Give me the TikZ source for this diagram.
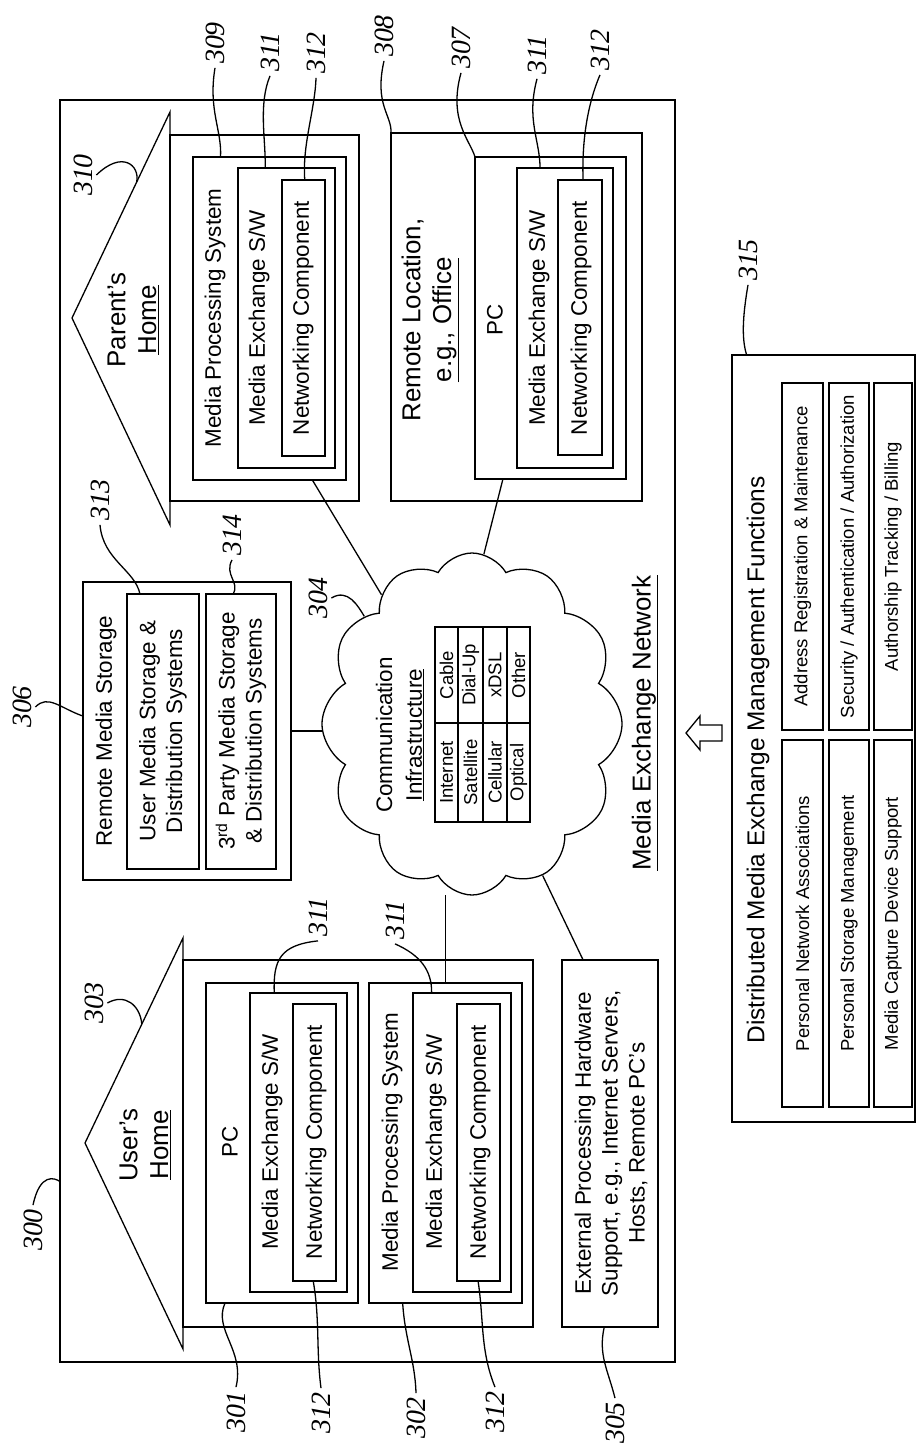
\documentclass[tikz,border=0pt]{standalone}
\usepackage{fontspec}
\setmainfont{Liberation Sans}
\newfontfamily\handfont{Liberation Serif}
\usetikzlibrary{shapes.symbols,fit,calc}
\tikzset{
  box/.style={draw, line width=1.3bp, inner sep=0pt, outer sep=0pt},
  conn/.style={line width=1.3bp},
  lead/.style={line width=1.3bp},
  txt/.style={rotate=90, inner sep=0pt, align=center, font=\fontsize{22.5}{27}\selectfont},
  bigtxt/.style={rotate=90, inner sep=0pt, align=center, font=\fontsize{26}{31}\selectfont},
  smalltxt/.style={rotate=90, inner sep=0pt, align=center, font=\fontsize{18.6}{22}\selectfont},
  titletxt/.style={rotate=90, inner sep=0pt, align=center, font=\fontsize{24.5}{29}\selectfont},
  lbl/.style={rotate=90, inner sep=1pt, outer sep=3pt, font=\handfont\itshape\fontsize{28}{30}\selectfont},
}
\begin{document}
\begin{tikzpicture}[x=1bp, y=-1bp]
\useasboundingbox (0,0) rectangle (916,1452);

% outer network box
\node[box, fit={(60,100)(675,1362)}] (outer) {};

% Parent's home
\coordinate (ptop) at (170,112);
\coordinate (papex) at (72,318);
\coordinate (pbot) at (170,525);
\draw[conn] (ptop) -- (papex) -- (pbot) -- cycle;
\node[box, fit={(170,135)(359,501)}] (prect) {};
\node[bigtxt] (ptxt) at (133,320) {Parent's\\\underline{Home}};
\node[box, fit={(193,157)(346,480)}] (pmps) {};
\node[box, fit={(238,168)(335,468)}] (pmes) {};
\node[box, fit={(282,180)(325,456)}] (pnc) {};
\node[txt] (pmpst) at (215,318) {Media Processing System};
\node[txt] (pmest) at (259,318) {Media Exchange S/W};
\node[txt] (pnct) at (303,318) {Networking Component};

% Remote location
\node[box, fit={(391,133)(642,501)}] (rloc) {};
\node[bigtxt] (rloct) at (430,320) {Remote Location,\\\underline{e.g., Office}};
\node[box, fit={(475,157)(626,479)}] (rpc) {};
\node[box, fit={(517,168)(613,468)}] (rmes) {};
\node[box, fit={(558,180)(602,455)}] (rnc) {};
\node[txt] (rpct) at (495,320) {PC};
\node[txt] (rmest) at (539,318) {Media Exchange S/W};
\node[txt] (rnct) at (581,318) {Networking Component};

% Remote media storage
\node[box, fit={(83,582)(291,880)}] (rms) {};
\node[box, fit={(127,594)(199,869)}] (umsd) {};
\node[box, fit={(206,594)(276,869)}] (tpms) {};
\node[txt] (rmst) at (106,731) {Remote Media Storage};
\node[txt] (umsdt) at (163,731) {User Media Storage \&\\Distribution Systems};
\node[txt] (tpmst) at (241,731) {3\textsuperscript{rd} Party Media Storage\\\& Distribution Systems};

% Cloud
\node[cloud, draw, line width=1.3bp, cloud puffs=12, cloud puff arc=120, aspect=0.86,
      minimum width=300bp, minimum height=342bp, inner sep=0pt] (cloud) at (472,724) {};
\node[txt, font=\fontsize{22.5}{30}\selectfont] (cloudt) at (400,735) {Communication\\\underline{Infrastructure}};
\node[box, fit={(435,723)(458,822)}] (c11) {};
\node[box, fit={(435,627)(458,723)}] (c12) {};
\node[box, fit={(458,723)(483,822)}] (c21) {};
\node[box, fit={(458,627)(483,723)}] (c22) {};
\node[box, fit={(483,723)(507,822)}] (c31) {};
\node[box, fit={(483,627)(507,723)}] (c32) {};
\node[box, fit={(507,723)(530,822)}] (c41) {};
\node[box, fit={(507,627)(530,723)}] (c42) {};
\node[smalltxt] at (c11) {Internet};
\node[smalltxt] at (c12) {Cable};
\node[smalltxt] at (c21) {Satellite};
\node[smalltxt] at (c22) {Dial-Up};
\node[smalltxt] at (c31) {Cellular};
\node[smalltxt] at (c32) {xDSL};
\node[smalltxt] at (c41) {Optical};
\node[smalltxt] at (c42) {Other};

\node[bigtxt] (mxn) at (645,723) {\underline{Media Exchange Network}};

% External processing
\node[box, fit={(562,960)(658,1327)}] (ext) {};
\node[txt] (extt) at (611,1143) {External Processing Hardware\\Support, e.g., Internet Servers,\\Hosts, Remote PC's};

% User's home
\coordinate (utop) at (183,938);
\coordinate (uapex) at (85,1143);
\coordinate (ubot) at (183,1349);
\draw[conn] (utop) -- (uapex) -- (ubot) -- cycle;
\node[box, fit={(183,960)(533,1327)}] (urect) {};
\node[bigtxt] (utxt) at (145,1145) {User's\\\underline{Home}};
\node[box, fit={(206,983)(358,1303)}] (upc) {};
\node[box, fit={(250,993)(347,1292)}] (umes1) {};
\node[box, fit={(293,1004)(336,1281)}] (unc1) {};
\node[box, fit={(369,983)(522,1303)}] (umps) {};
\node[box, fit={(413,993)(511,1292)}] (umes2) {};
\node[box, fit={(457,1004)(500,1281)}] (unc2) {};
\node[txt] (upct) at (230,1142) {PC};
\node[txt] (umes1t) at (272,1142) {Media Exchange S/W};
\node[txt] (unc1t) at (316,1142) {Networking Component};
\node[txt] (umpst) at (392,1142) {Media Processing System};
\node[txt] (umes2t) at (436,1142) {Media Exchange S/W};
\node[txt] (unc2t) at (480,1142) {Networking Component};

% Connectors to the cloud
\draw[conn] ($(pmps.south west)!0.78!(pmps.south east)$) -- (cloud.125);
\draw[conn] ($(rpc.south west)!0.185!(rpc.south east)$) -- (cloud.86);
\draw[conn] (rms.east) -- (rms.east -| cloud.182);
\draw[conn] (umps.north) -- (umps.north |- cloud.268);
\draw[conn] ($(ext.north west)!0.22!(ext.north east)$) -- (cloud.295);

% Arrow
\draw[conn] (686,733) -- (700,716) -- (700,725) -- (722,725) -- (722,741) -- (700,741) -- (700,750) -- cycle;

% Management functions
\node[box, fit={(732,355)(915,1122)}] (func) {};
\node[titletxt] (funct) at (758,760) {Distributed Media Exchange Management Functions};
\node[box, fit={(782,740)(823,1107)}] (f11) {};
\node[box, fit={(782,383)(823,730)}] (f12) {};
\node[box, fit={(829,740)(869,1107)}] (f21) {};
\node[box, fit={(829,383)(869,730)}] (f22) {};
\node[box, fit={(874,740)(912,1107)}] (f31) {};
\node[box, fit={(874,383)(912,730)}] (f32) {};
\node[smalltxt] at (f11) {Personal Network Associations};
\node[smalltxt] at (f12) {Address Registration \& Maintenance};
\node[smalltxt] at (f21) {Personal Storage Management};
\node[smalltxt] at (f22) {Security / Authentication / Authorization};
\node[smalltxt] at (f31) {Media Capture Device Support};
\node[smalltxt] at (f32) {Authorship Tracking / Billing};

% Reference labels
\node[lbl] (l309) at (215,43) {309};
\node[lbl] (l311a) at (270,52) {311};
\node[lbl] (l312a) at (316,53) {312};
\node[lbl] (l308) at (384,36) {308};
\node[lbl] (l307) at (461,48) {307};
\node[lbl] (l311b) at (537,55) {311};
\node[lbl] (l312b) at (600,50) {312};
\node[lbl] (l310) at (83,175) {310};
\node[lbl] (l313) at (100,500) {313};
\node[lbl] (l314) at (232,535) {314};
\node[lbl] (l306) at (22,707) {306};
\node[lbl] (l304) at (318,598) {304};
\node[lbl] (l311c) at (318,917) {311};
\node[lbl] (l311d) at (395,920) {311};
\node[lbl] (l303) at (94,1003) {303};
\node[lbl] (l300) at (33,1230) {300};
\node[lbl] (l301) at (236,1412) {301};
\node[lbl] (l312c) at (321,1413) {312};
\node[lbl] (l302) at (416,1418) {302};
\node[lbl] (l312d) at (495,1412) {312};
\node[lbl] (l305) at (615,1423) {305};
\node[lbl] (l315) at (748,260) {315};

% Leaders
\draw[lead] (l309.west) .. controls (208,110) and (222,130) .. ($(pmps.north west)!0.18!(pmps.north east)$);
\draw[lead] (l311a.west) .. controls (258,105) and (266,140) .. ($(pmes.north west)!0.28!(pmes.north east)$);
\draw[lead] (l312a.west) .. controls (315,110) and (302,145) .. ($(pnc.north west)!0.53!(pnc.north east)$);
\draw[lead] (l308.west) .. controls (374,105) and (392,115) .. (rloc.north west);
\draw[lead] (l307.west) .. controls (448,120) and (470,140) .. (rpc.north west);
\draw[lead] (l311b.west) .. controls (526,120) and (540,140) .. ($(rmes.north west)!0.24!(rmes.north east)$);
\draw[lead] (l312b.west) .. controls (585,110) and (582,150) .. ($(rnc.north west)!0.57!(rnc.north east)$);
\draw[lead] (l310.south) .. controls (122,150) and (140,165) .. ($(ptop)!0.34!(papex)$);
\draw[lead] (l313.west) .. controls (103,560) and (135,570) .. ($(umsd.north west)!0.18!(umsd.north east)$);
\draw[lead] (l314.west) .. controls (224,575) and (240,582) .. ($(tpms.north west)!0.39!(tpms.north east)$);
\draw[lead] (l306.south) .. controls (48,694) and (60,708) .. ($(rms.north west)!0.45!(rms.south west)$);
\draw[lead] (l304.south) .. controls (348,588) and (358,606) .. (cloud.135);
\draw[lead] (l311c.west) .. controls (280,945) and (273,960) .. ($(umes1.north west)!0.25!(umes1.north east)$);
\draw[lead] (l311d.west) .. controls (420,955) and (432,970) .. ($(umes2.north west)!0.19!(umes2.north east)$);
\draw[lead] (l303.south) .. controls (125,993) and (140,1005) .. ($(utop)!0.42!(uapex)$);
\draw[lead] (l300.east) .. controls (40,1172) and (55,1178) .. ($(outer.north west)!0.857!(outer.south west)$);
\draw[lead] ($(upc.south west)!0.125!(upc.south east)$) .. controls (213,1330) and (245,1350) .. (l301.east);
\draw[lead] ($(unc1.south west)!0.47!(unc1.south east)$) .. controls (320,1320) and (316,1350) .. (l312c.east);
\draw[lead] ($(umps.south west)!0.22!(umps.south east)$) .. controls (405,1340) and (415,1360) .. (l302.east);
\draw[lead] ($(unc2.south west)!0.49!(unc2.south east)$) .. controls (484,1320) and (480,1350) .. (l312d.east);
\draw[lead] ($(ext.south west)!0.44!(ext.south east)$) .. controls (598,1355) and (608,1370) .. (l305.east);
\draw[lead] (l315.west) .. controls (742,320) and (742,340) .. ($(func.north west)!0.08!(func.north east)$);
\end{tikzpicture}
\end{document}
